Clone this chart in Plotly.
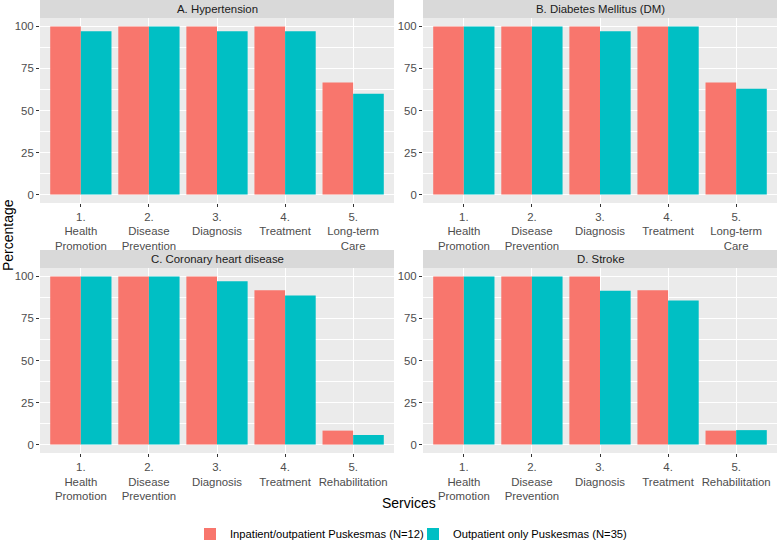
import plotly.graph_objects as go

W, H = 780, 542

panel_titles = ["A. Hypertension", "B. Diabetes Mellitus (DM)",
                "C. Coronary heart disease", "D. Stroke"]

cats_top = ["1.<br>Health<br>Promotion", "2.<br>Disease<br>Prevention",
            "3.<br>Diagnosis", "4.<br>Treatment", "5.<br>Long-term<br>Care"]
cats_bottom = ["1.<br>Health<br>Promotion", "2.<br>Disease<br>Prevention",
               "3.<br>Diagnosis", "4.<br>Treatment", "5.<br>Rehabilitation"]

series_names = ["Inpatient/outpatient Puskesmas (N=12)",
                "Outpatient only Puskesmas (N=35)"]

inpatient_A = [100, 100, 100, 100, 66.7]
outpatient_A = [97.1, 100, 97.1, 97.1, 60.0]
inpatient_B = [100, 100, 100, 100, 66.7]
outpatient_B = [100, 100, 97.1, 100, 62.9]
inpatient_C = [100, 100, 100, 91.7, 8.3]
outpatient_C = [100, 100, 97.1, 88.6, 5.7]
inpatient_D = [100, 100, 100, 91.7, 8.3]
outpatient_D = [100, 100, 91.4, 85.7, 8.6]

y_ticks = [0, 25, 50, 75, 100]

colors = ["#F8766D", "#00BFC4"]

panels = [
    (cats_top, inpatient_A, outpatient_A),
    (cats_top, inpatient_B, outpatient_B),
    (cats_bottom, inpatient_C, outpatient_C),
    (cats_bottom, inpatient_D, outpatient_D),
]

# pixel geometry
col_x = [(40, 394), (423, 777)]
row_y = [(18, 203), (268, 453)]   # plot areas (top px, bottom px)
strip_h = 18

FONT = "Liberation Sans, Arial, sans-serif"
FS = 11.4

fig = go.Figure()
layout_axes = {}
shapes = []
annotations = []

for i, (cats, s1, s2) in enumerate(panels):
    r, c = divmod(i, 2)
    x0, x1 = col_x[c]
    ytop, ybot = row_y[r]
    xd = [x0 / W, x1 / W]
    yd = [1 - ybot / H, 1 - ytop / H]
    n = i + 1
    xa = "x" if n == 1 else f"x{n}"
    ya = "y" if n == 1 else f"y{n}"
    for k, vals in enumerate([s1, s2]):
        fig.add_trace(go.Bar(
            x=cats, y=vals, name=series_names[k],
            marker=dict(color=colors[k], line=dict(width=0)),
            legendgroup=series_names[k], showlegend=(i == 0),
            xaxis=xa, yaxis=ya,
        ))
    axis_font = dict(family=FONT, size=FS, color="#4D4D4D")
    layout_axes["xaxis" if n == 1 else f"xaxis{n}"] = dict(
        domain=xd, anchor=ya, type="category", categoryorder="array",
        categoryarray=cats, range=[-0.6, 4.6], automargin=False,
        showgrid=True, gridcolor="white", gridwidth=1.1,
        ticks="outside", ticklen=3, tickcolor="#333333", tickwidth=1,
        tickfont=axis_font, showline=False, zeroline=False, fixedrange=True,
    )
    layout_axes["yaxis" if n == 1 else f"yaxis{n}"] = dict(
        domain=yd, anchor=xa, range=[-5, 105], automargin=False,
        tickvals=y_ticks, showgrid=True, gridcolor="white", gridwidth=1.1,
        minor=dict(tickvals=[12.5, 37.5, 62.5, 87.5], showgrid=True,
                   gridcolor="white", gridwidth=0.5, ticks=""),
        ticks="outside", ticklen=3, tickcolor="#333333", tickwidth=1,
        tickfont=axis_font, showline=False, zeroline=False, fixedrange=True,
    )
    # panel background
    shapes.append(dict(type="rect", xref="paper", yref="paper",
                       x0=xd[0], x1=xd[1], y0=yd[0], y1=yd[1],
                       fillcolor="#EBEBEB", line=dict(width=0), layer="below"))
    # strip
    sy0 = 1 - ytop / H
    sy1 = 1 - (ytop - strip_h) / H
    shapes.append(dict(type="rect", xref="paper", yref="paper",
                       x0=xd[0], x1=xd[1], y0=sy0, y1=sy1,
                       fillcolor="#D9D9D9", line=dict(width=0), layer="below"))
    annotations.append(dict(text=panel_titles[i], xref="paper", yref="paper",
                            x=(xd[0] + xd[1]) / 2, y=(sy0 + sy1) / 2,
                            xanchor="center", yanchor="middle", showarrow=False,
                            font=dict(family=FONT, size=FS, color="#1A1A1A")))

annotations.append(dict(text="Services", xref="paper", yref="paper",
                        x=(40 + 777) / 2 / W, y=1 - 503 / H,
                        xanchor="center", yanchor="middle", showarrow=False,
                        font=dict(family=FONT, size=14, color="black")))
annotations.append(dict(text="Percentage", xref="paper", yref="paper",
                        x=8 / W, y=1 - 235 / H, textangle=-90,
                        xanchor="center", yanchor="middle", showarrow=False,
                        font=dict(family=FONT, size=14, color="black")))

fig.update_layout(
    template="none",
    width=W, height=H, autosize=False,
    margin=dict(l=0, r=0, t=0, b=0, pad=0, autoexpand=False),
    paper_bgcolor="white", plot_bgcolor="rgba(0,0,0,0)",
    barmode="group", bargap=0.1, bargroupgap=0,
    shapes=shapes, annotations=annotations,
    legend=dict(orientation="h", x=413 / W, xanchor="center",
                xref="container", yref="container",
                y=1 - 534 / H, yanchor="middle",
                font=dict(family=FONT, size=11.2, color="black"),
                entrywidth=178, entrywidthmode="pixels",
                tracegroupgap=0, bgcolor="rgba(0,0,0,0)"),
    **layout_axes,
)

fig.write_html(
    "out.html",
    config={"displayModeBar": False},
    post_script="document.body.style.margin='0';"
                "document.body.style.padding='0';"
                "document.body.style.overflow='hidden';",
)
